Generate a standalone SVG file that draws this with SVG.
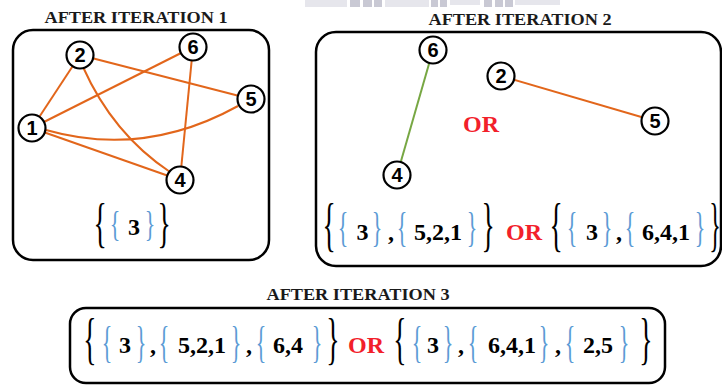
<svg xmlns="http://www.w3.org/2000/svg" width="722" height="385" viewBox="0 0 722 385">
  <style>
    .panel { fill: #ffffff; stroke: #000000; stroke-width: 2.5; }
    .title { font-family: "Liberation Serif", "Times New Roman", serif; font-weight: bold; font-size: 17px; fill: #1a1a1a; text-anchor: middle; }
    .node circle { fill: #ffffff; stroke: #000000; stroke-width: 2.2; }
    .node text { font-family: "Liberation Sans", Arial, sans-serif; font-weight: bold; font-size: 20px; fill: #000000; text-anchor: middle; }
    .edge { fill: none; stroke: #E2661B; stroke-width: 2; }
    .edge.green { stroke: #77A743; }
    .val { font-family: "Liberation Serif", "Times New Roman", serif; font-weight: bold; font-size: 24px; fill: #000000; text-anchor: middle; }
    .or { font-family: "Liberation Serif", "Times New Roman", serif; font-weight: bold; font-size: 24px; fill: #F2202A; text-anchor: middle; }
    .ob { font-family: "Liberation Serif", "Times New Roman", serif; font-size: 24px; fill: #000000; text-anchor: middle; }
    .ib { font-family: "Liberation Serif", "Times New Roman", serif; font-size: 20px; fill: #5B9BD5; text-anchor: middle; }
    .smudge { fill: #c9c9d4; }
    .smudge.light { fill: #e6e6ec; }
  </style>

  <!-- faint strip along the top edge -->
  <g id="top-strip">
    <rect class="smudge light" x="305" y="0" width="42" height="7"/>
    <rect class="smudge" x="350" y="0" width="10" height="7"/>
    <rect class="smudge" x="363" y="0" width="9" height="7"/>
    <rect class="smudge" x="374" y="0" width="8" height="7"/>
    <rect class="smudge light" x="385" y="0" width="44" height="7"/>
    <rect class="smudge" x="431" y="0" width="7" height="7"/>
    <rect class="smudge" x="440" y="0" width="7" height="7"/>
    <rect class="smudge light" x="450" y="0" width="30" height="5"/>
    <rect class="smudge" x="484" y="0" width="8" height="7"/>
    <rect class="smudge" x="495" y="0" width="8" height="7"/>
    <rect class="smudge" x="505" y="0" width="8" height="7"/>
    <rect class="smudge light" x="515" y="0" width="45" height="5"/>
  </g>

  <!-- Iteration 1 -->
  <g id="panel-1">
    <text class="title" x="136" y="23" textLength="183" lengthAdjust="spacingAndGlyphs">AFTER ITERATION 1</text>
    <rect class="panel" x="13" y="30" width="256" height="230" rx="20"/>
  </g>
  <g id="edges-1">
    <line class="edge" x1="32" y1="128" x2="80" y2="55"/>
    <line class="edge" x1="80" y1="55" x2="251" y2="99"/>
    <line class="edge" x1="32" y1="128" x2="193" y2="47"/>
    <line class="edge" x1="193" y1="47" x2="180" y2="180"/>
    <line class="edge" x1="32" y1="128" x2="180" y2="180"/>
    <path class="edge" d="M83 67 Q113 134 170 172"/>
    <path class="edge" d="M46 130 Q144 158 238 106"/>
  </g>
  <g id="p1-node-1" class="node"><circle cx="32" cy="128" r="13.5"/><text x="32" y="135">1</text></g>
  <g id="p1-node-2" class="node"><circle cx="80" cy="55" r="13.5"/><text x="80" y="62">2</text></g>
  <g id="p1-node-6" class="node"><circle cx="193" cy="47" r="13.5"/><text x="193" y="54">6</text></g>
  <g id="p1-node-5" class="node"><circle cx="251" cy="99" r="13.5"/><text x="251" y="106">5</text></g>
  <g id="p1-node-4" class="node"><circle cx="180" cy="180" r="13.5"/><text x="180" y="187">4</text></g>
  <g id="set-1">
    <text class="ob" transform="translate(100 241) scale(1.15 2.3)">{</text>
    <text class="ib" transform="translate(115 236) scale(1.1 1.75)">{</text>
    <text class="val" x="134" y="235">3</text>
    <text class="ib" transform="translate(150 236) scale(1.1 1.75)">}</text>
    <text class="ob" transform="translate(164 241) scale(1.15 2.3)">}</text>
  </g>

  <!-- Iteration 2 -->
  <g id="panel-2">
    <text class="title" x="520" y="25" textLength="183" lengthAdjust="spacingAndGlyphs">AFTER ITERATION 2</text>
    <rect class="panel" x="316" y="32" width="405" height="234" rx="20"/>
  </g>
  <g id="edges-2">
    <line class="edge green" x1="433" y1="50" x2="397" y2="175"/>
    <line class="edge" x1="501" y1="76" x2="655" y2="121"/>
  </g>
  <g id="p2-node-6" class="node"><circle cx="433" cy="50" r="13.5"/><text x="433" y="57">6</text></g>
  <g id="p2-node-2" class="node"><circle cx="501" cy="76" r="13.5"/><text x="501" y="83">2</text></g>
  <g id="p2-node-5" class="node"><circle cx="655" cy="121" r="13.5"/><text x="655" y="128">5</text></g>
  <g id="p2-node-4" class="node"><circle cx="397" cy="175" r="13.5"/><text x="397" y="182">4</text></g>
  <text class="or" x="481" y="132">OR</text>
  <g id="set-2">
    <text class="ob" transform="translate(329 244) scale(1.15 2.5)">{</text>
    <text class="ib" transform="translate(343 241) scale(1.1 2.1)">{</text>
    <text class="val" x="362.5" y="240">3</text>
    <text class="ib" transform="translate(377 241) scale(1.1 2.1)">}</text>
    <text class="val" x="391" y="240">,</text>
    <text class="ib" transform="translate(402 241) scale(1.1 2.1)">{</text>
    <text class="val" x="438" y="240">5,2,1</text>
    <text class="ib" transform="translate(472 241) scale(1.1 2.1)">}</text>
    <text class="ob" transform="translate(488 244) scale(1.15 2.5)">}</text>
    <text class="or" x="524" y="240">OR</text>
    <text class="ob" transform="translate(556 244) scale(1.15 2.5)">{</text>
    <text class="ib" transform="translate(572 241) scale(1.1 2.1)">{</text>
    <text class="val" x="592" y="240">3</text>
    <text class="ib" transform="translate(607 241) scale(1.1 2.1)">}</text>
    <text class="val" x="619" y="240">,</text>
    <text class="ib" transform="translate(630 241) scale(1.1 2.1)">{</text>
    <text class="val" x="666" y="240">6,4,1</text>
    <text class="ib" transform="translate(700 241) scale(1.1 2.1)">}</text>
    <text class="ob" transform="translate(715 244) scale(1 2.5)">}</text>
  </g>

  <!-- Iteration 3 -->
  <g id="panel-3">
    <text class="title" x="358" y="300" textLength="183" lengthAdjust="spacingAndGlyphs">AFTER ITERATION 3</text>
    <rect class="panel" x="70" y="308" width="595" height="75" rx="16"/>
  </g>
  <g id="set-3">
    <text class="ob" transform="translate(90 358) scale(1.15 2.4)">{</text>
    <text class="ib" transform="translate(107 357) scale(1.1 2.2)">{</text>
    <text class="val" x="125" y="353">3</text>
    <text class="ib" transform="translate(141 357) scale(1.1 2.2)">}</text>
    <text class="val" x="153" y="353">,</text>
    <text class="ib" transform="translate(164 357) scale(1.1 2.2)">{</text>
    <text class="val" x="202" y="353">5,2,1</text>
    <text class="ib" transform="translate(236 357) scale(1.1 2.2)">}</text>
    <text class="val" x="249" y="353">,</text>
    <text class="ib" transform="translate(261 357) scale(1.1 2.2)">{</text>
    <text class="val" x="288" y="353">6,4</text>
    <text class="ib" transform="translate(317 357) scale(1.1 2.2)">}</text>
    <text class="ob" transform="translate(333 358) scale(1.15 2.4)">}</text>
    <text class="or" x="366" y="353">OR</text>
    <text class="ob" transform="translate(400 358) scale(1.15 2.4)">{</text>
    <text class="ib" transform="translate(417 357) scale(1.1 2.2)">{</text>
    <text class="val" x="433" y="353">3</text>
    <text class="ib" transform="translate(448 357) scale(1.1 2.2)">}</text>
    <text class="val" x="461" y="353">,</text>
    <text class="ib" transform="translate(473 357) scale(1.1 2.2)">{</text>
    <text class="val" x="512" y="353">6,4,1</text>
    <text class="ib" transform="translate(544 357) scale(1.1 2.2)">}</text>
    <text class="val" x="558" y="353">,</text>
    <text class="ib" transform="translate(570 357) scale(1.1 2.2)">{</text>
    <text class="val" x="598" y="353">2,5</text>
    <text class="ib" transform="translate(624 357) scale(1.1 2.2)">}</text>
    <text class="ob" transform="translate(646 358) scale(1.15 2.4)">}</text>
  </g>
</svg>
